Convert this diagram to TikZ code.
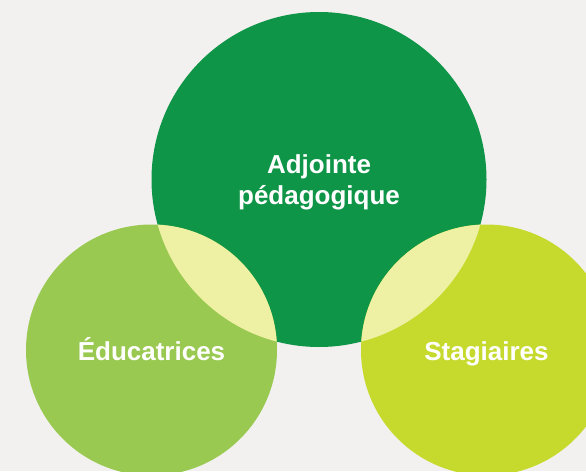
\documentclass[tikz,border=0pt]{standalone}
\usepackage{fontspec}
\setmainfont{Liberation Sans}
\definecolor{bgc}{HTML}{F2F1EF}
\definecolor{bigc}{HTML}{0F9547}
\definecolor{leftc}{HTML}{99C950}
\definecolor{rightc}{HTML}{C6DA2E}
\definecolor{lensc}{HTML}{EEF0A3}
\tikzset{
  lbl/.style={text=white, font=\fontsize{26}{31}\selectfont\bfseries, inner sep=0pt, anchor=base}
}
\begin{document}
\begin{tikzpicture}[x=1pt,y=-1pt]
\fill[bgc] (0,0) rectangle (586,471);
\useasboundingbox (0,0) rectangle (586,471);
\coordinate (cb) at (319,179.5);
\coordinate (cl) at (151.5,350);
\coordinate (cr) at (486.5,350);
\fill[bigc] (cb) circle[radius=167.5];
\fill[leftc] (cl) circle[radius=125.5];
\fill[rightc] (cr) circle[radius=125.5];
\begin{scope}
  \clip (cb) circle[radius=167.5];
  \fill[lensc] (cl) circle[radius=125.5];
  \fill[lensc] (cr) circle[radius=125.5];
\end{scope}
\node[lbl] (adj) at (319,173) {Adjointe};
\node[lbl] (ped) at (319,204) {pédagogique};
\node[lbl] (edu) at (151.5,360.5) {Éducatrices};
\node[lbl] (sta) at (486.5,360.5) {Stagiaires};
\end{tikzpicture}
\end{document}
